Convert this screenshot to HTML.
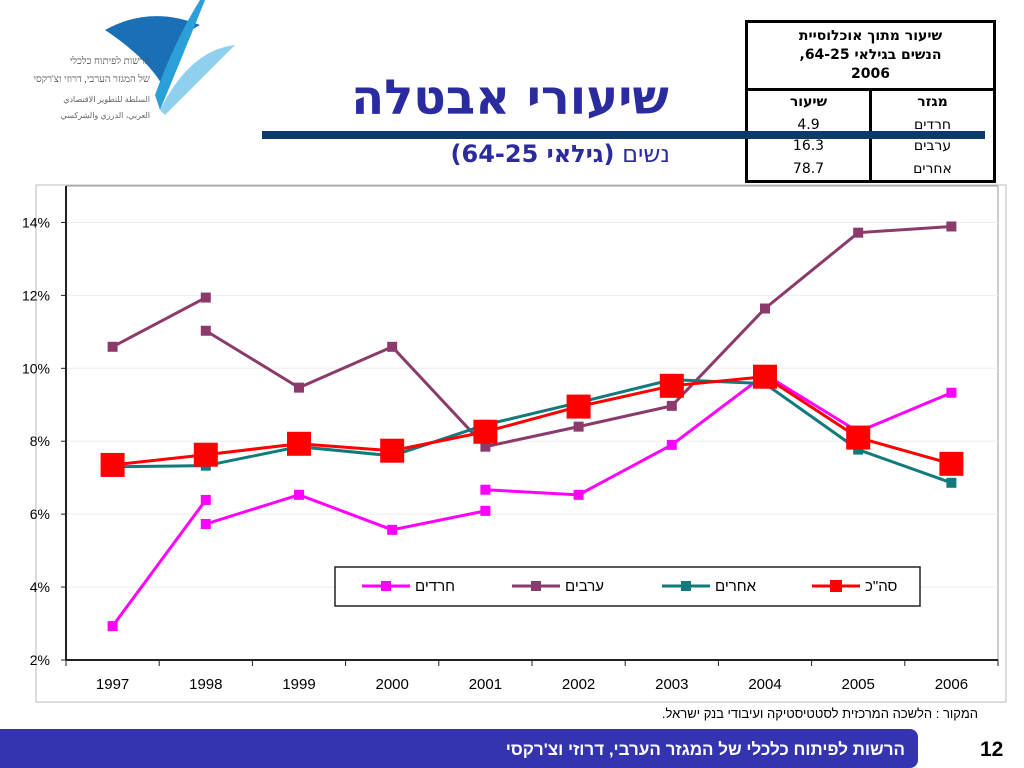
<!DOCTYPE html>
<html><head><meta charset="utf-8">
<style>
body{margin:0;width:1024px;height:768px;background:#fff;position:relative;overflow:hidden;font-family:"Liberation Sans","Noto Sans CJK SC",sans-serif}
.abs{position:absolute}
table.t{border-collapse:collapse;font-family:"DejaVu Sans","Liberation Sans",sans-serif;font-size:14px}
table.t td{padding:0}
</style></head><body>
<svg class="abs" style="left:0;top:0" width="240" height="130">
<path d="M105 30 Q150 5 200 25 Q170 40 165 90 Q150 60 105 30Z" fill="#1a6fb5"/>
<path d="M155 95 Q175 40 200 0 L205 0 Q185 50 160 110Z" fill="#2a9fd8"/>
<path d="M160 110 Q190 50 235 45 Q200 80 165 115Z" fill="#8fd0ef"/>
<text x="150" y="64" font-size="10" text-anchor="end" fill="#555" font-family="Liberation Serif,serif">הרשות לפיתוח כלכלי</text>
<text x="150" y="82" font-size="10" text-anchor="end" fill="#555" font-family="Liberation Serif,serif">של המגזר הערבי, דרוזי וצ'רקסי</text>
<text x="150" y="102" font-size="8" text-anchor="end" fill="#666">السلطة للتطوير الاقتصادي</text>
<text x="150" y="118" font-size="8" text-anchor="end" fill="#666">العربي، الدرزي والشركسي</text>
</svg>
<div class="abs" style="left:330px;top:70px;width:360px;text-align:center;font-size:48px;font-weight:bold;color:#2b2ba0;direction:rtl;font-family:'DejaVu Sans',sans-serif">שיעורי אבטלה</div>
<div class="abs" style="left:380px;top:140px;width:290px;text-align:right;font-size:24px;color:#2b2ba0;direction:rtl;font-family:'DejaVu Sans',sans-serif">נשים <b>(גילאי 64-25)</b></div>
<table class="t abs" style="left:745px;top:20px;width:251px;height:163px;border:3px solid #000;direction:rtl;background:#fff">
<tr style="height:68px"><td colspan="2" style="text-align:center;font-weight:bold;border-bottom:3px solid #000;line-height:19px;font-size:14px">שיעור מתוך אוכלוסיית<br>הנשים בגילאי 64-25,<br>2006</td></tr>
<tr><td style="text-align:center;font-weight:bold;border-left:3px solid #000;width:50%">מגזר</td><td style="text-align:center;font-weight:bold">שיעור</td></tr>
<tr><td style="text-align:center;border-left:3px solid #000">חרדים</td><td style="text-align:center">4.9</td></tr>
<tr><td style="text-align:center;border-left:3px solid #000">ערבים</td><td style="text-align:center">16.3</td></tr>
<tr><td style="text-align:center;border-left:3px solid #000">אחרים</td><td style="text-align:center">78.7</td></tr>
</table>
<div class="abs" style="left:262px;top:131px;width:723px;height:8px;background:#0d3a6e;z-index:2"></div>
<svg id="chart" class="abs" style="left:0;top:0" width="1024" height="768"></svg>
<div class="abs" style="left:500px;top:706px;width:478px;text-align:right;font-size:13px;direction:rtl;color:#000">המקור : הלשכה המרכזית לסטטיסטיקה ועיבודי בנק ישראל.</div>
<div class="abs" style="left:0;top:729px;width:918px;height:39px;background:#3434b0;border-radius:0 8px 8px 0"></div>
<div class="abs" style="left:300px;top:740px;width:605px;text-align:right;color:#fff;font-weight:bold;font-size:17px;direction:rtl">הרשות לפיתוח כלכלי של המגזר הערבי, דרוזי וצ'רקסי</div>
<div class="abs" style="left:980px;top:738px;font-weight:bold;font-size:21px">12</div>
<script>
const categories=["1997","1998","1999","2000","2001","2002","2003","2004","2005","2006"];
const yTicks=[2,4,6,8,10,12,14];
// segments: [startIndex, values]
const haredimSegs=[[0,[2.93,6.39]],[1,[5.73,6.53,5.57,6.09]],[4,[6.67,6.53,7.9,9.83,8.26,9.33]]];
const arabsSegs=[[0,[10.59,11.94]],[1,[11.03,9.47,10.59,7.85,8.4,8.97,11.64,13.72,13.89]]];
const othersSegs=[[0,[7.3,7.33,7.85,7.6,8.45,9.06,9.69,9.58,7.77,6.86]]];
const totalSegs=[[0,[7.35,7.63,7.93,7.74,8.26,8.95,9.52,9.77,8.1,7.38]]];
const legendNames=["חרדים","ערבים","אחרים","סה\"כ"];
const NS="http://www.w3.org/2000/svg";
const svg=document.getElementById('chart');
const L=66,R=998,T=186,B=660,yMin=2,yMax=15;
const step=(R-L)/categories.length;
const xS=i=>L+step*(i+0.5);
const yS=v=>B-(v-yMin)/(yMax-yMin)*(B-T);
function mk(t,a,p){const e=document.createElementNS(NS,t);for(const k in a)e.setAttribute(k,a[k]);(p||svg).appendChild(e);return e;}
const frame=mk('rect',{x:36,y:185,width:970,height:517,fill:'none',stroke:'#bbb','stroke-width':1});


mk('line',{x1:L,y1:T,x2:R,y2:T,stroke:'#999'});
mk('line',{x1:R,y1:T,x2:R,y2:B,stroke:'#999'});
yTicks.forEach(v=>{
 const y=yS(v);
 if(v>2){const g=mk('line',{x1:L,y1:y,x2:R,y2:y,stroke:'#eee'});}
 mk('line',{x1:L-5,y1:y,x2:L,y2:y,stroke:'#222'});
 const t=mk('text',{x:50,y:y+5,'text-anchor':'end','font-size':14});t.textContent=v+'%';
 
 
});
const ax=mk('line',{x1:L,y1:T,x2:L,y2:B,stroke:'#222','stroke-width':2});


const xa=mk('line',{x1:L,y1:B,x2:R,y2:B,stroke:'#222','stroke-width':2});


for(let i=0;i<=categories.length;i++)mk('line',{x1:L+step*i,y1:B,x2:L+step*i,y2:B+6,stroke:'#222'});
categories.forEach((c,i)=>{const t=mk('text',{x:xS(i),y:B+29,'text-anchor':'middle','font-size':15});t.textContent=c;
 
 });
const series=[[haredimSegs,'#ff00ff',3,10,'series-haredim'],[arabsSegs,'#8b3a6b',3,10,'series-arabs'],[othersSegs,'#117a7a',3,10,'series-others'],[totalSegs,'#ff0000',3,24,'series-total']];
series.forEach(([segs,col,w,ms,name])=>{
 const g=mk('g',{});
 
 
 segs.forEach(([s,vals])=>{
  const pts=vals.map((v,k)=>xS(s+k)+','+yS(v)).join(' ');
  mk('polyline',{points:pts,fill:'none',stroke:col,'stroke-width':w},g);
  vals.forEach((v,k)=>{const r=mk('rect',{x:xS(s+k)-ms/2,y:yS(v)-ms/2,width:ms,height:ms,fill:col},g);
   
   });
 });
});
const lg=mk('g',{});


mk('rect',{x:335,y:567,width:585,height:39,fill:'#fff',stroke:'#222','stroke-width':1.5},lg);
const lx=[362,512,662,812];
series.forEach(([segs,col,w,ms],i)=>{
 const e=mk('g',{},lg);
 
 
 mk('line',{x1:lx[i],y1:586,x2:lx[i]+48,y2:586,stroke:col,'stroke-width':3},e);
 const s=Math.min(ms,12);
 mk('rect',{x:lx[i]+24-s/2,y:586-s/2,width:s,height:s,fill:col},e);
 const t=mk('text',{x:lx[i]+53,y:591,'text-anchor':'start','font-size':15},e);t.textContent=legendNames[i];
});
</script>
</body></html>
